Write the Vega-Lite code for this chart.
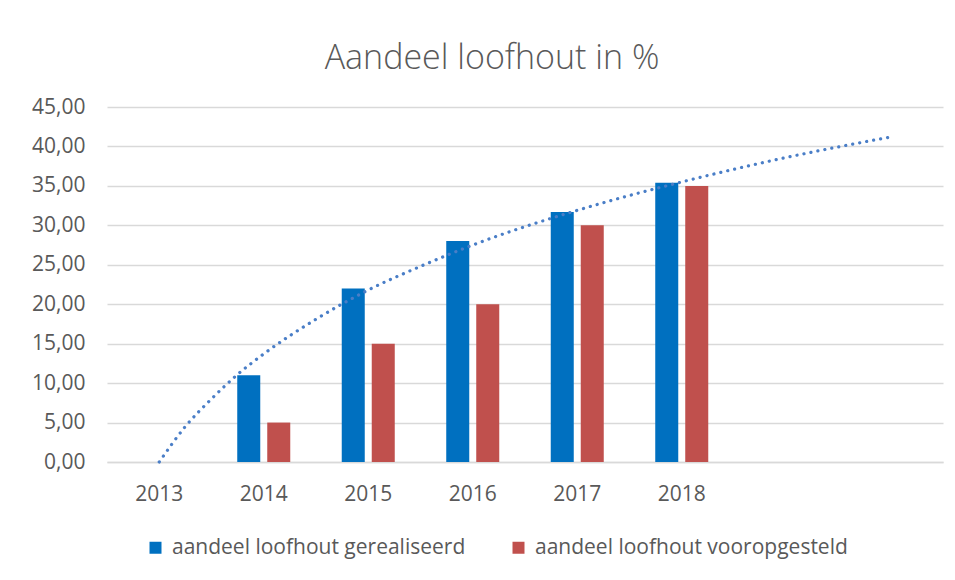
{
  "$schema": "https://vega.github.io/schema/vega-lite/v6.json",
  "width": 836,
  "height": 355,
  "autosize": {"type": "none"},
  "padding": {"left": 107, "top": 107, "right": 12, "bottom": 118},
  "background": "white",
  "config": {
    "view": {"stroke": null},
    "font": "Open Sans",
    "axis": {"labelFont": "Open Sans", "labelColor": "#595959", "labelFontSize": 21},
    "legend": {"labelFont": "Open Sans", "labelColor": "#595959", "labelFontSize": 21}
  },
  "title": {
    "text": "Aandeel loofhout in %",
    "font": "Open Sans",
    "fontSize": 34,
    "fontWeight": 300,
    "color": "#595959",
    "anchor": "middle",
    "dx": -33,
    "offset": 20
  },
  "layer": [
    {
      "data": {
        "values": [
          {"jaar": "2014", "serie": "aandeel loofhout gerealiseerd", "waarde": 11.0},
          {"jaar": "2014", "serie": "aandeel loofhout vooropgesteld", "waarde": 5.0},
          {"jaar": "2015", "serie": "aandeel loofhout gerealiseerd", "waarde": 22.0},
          {"jaar": "2015", "serie": "aandeel loofhout vooropgesteld", "waarde": 15.0},
          {"jaar": "2016", "serie": "aandeel loofhout gerealiseerd", "waarde": 28.0},
          {"jaar": "2016", "serie": "aandeel loofhout vooropgesteld", "waarde": 20.0},
          {"jaar": "2017", "serie": "aandeel loofhout gerealiseerd", "waarde": 31.7},
          {"jaar": "2017", "serie": "aandeel loofhout vooropgesteld", "waarde": 30.0},
          {"jaar": "2018", "serie": "aandeel loofhout gerealiseerd", "waarde": 35.4},
          {"jaar": "2018", "serie": "aandeel loofhout vooropgesteld", "waarde": 35.0}
        ]
      },
      "mark": {"type": "bar"},
      "encoding": {
        "x": {
          "field": "jaar",
          "type": "nominal",
          "scale": {"domain": ["2013", "2014", "2015", "2016", "2017", "2018", "2019", "2020"], "paddingInner": 0, "paddingOuter": 0},
          "axis": {
            "title": null,
            "ticks": false,
            "tickSize": 0,
            "labelPadding": 21,
            "labelAngle": 0,
            "domainColor": "#D9D9D9",
            "domainWidth": 1.5,
            "labelExpr": "datum.value == '2019' || datum.value == '2020' ? '' : datum.label"
          }
        },
        "xOffset": {
          "field": "serie",
          "type": "nominal",
          "scale": {"paddingInner": 0.233, "paddingOuter": 0.858}
        },
        "y": {
          "field": "waarde",
          "type": "quantitative",
          "scale": {"domain": [0, 45], "nice": false},
          "axis": {
            "title": null,
            "values": [0, 5, 10, 15, 20, 25, 30, 35, 40, 45],
            "labelOverlap": false,
            "ticks": false,
            "tickSize": 0,
            "domain": false,
            "labelPadding": 22,
            "gridColor": "#D9D9D9",
            "gridWidth": 1.5,
            "labelExpr": "replace(format(datum.value, '.2f'), '.', ',')"
          }
        },
        "color": {
          "field": "serie",
          "type": "nominal",
          "scale": {
            "domain": ["aandeel loofhout gerealiseerd", "aandeel loofhout vooropgesteld"],
            "range": ["#0070C0", "#C0504D"]
          },
          "legend": {
            "title": null,
            "orient": "none",
            "direction": "horizontal",
            "legendX": 38,
            "legendY": 430,
            "symbolType": "square",
            "symbolSize": 144,
            "symbolStrokeWidth": 0,
            "labelOffset": 6,
            "columnPadding": 42,
            "padding": 0,
            "labelLimit": 500
          }
        }
      }
    },
    {
      "data": {
        "values": [
          {"t": 1.0, "trend": 0.0},
          {"t": 1.25, "trend": 4.5},
          {"t": 1.5, "trend": 8.0},
          {"t": 1.75, "trend": 11.1},
          {"t": 2.0, "trend": 13.7},
          {"t": 2.5, "trend": 18.1},
          {"t": 3.0, "trend": 21.8},
          {"t": 3.5, "trend": 24.8},
          {"t": 4.0, "trend": 27.5},
          {"t": 5.0, "trend": 31.9},
          {"t": 6.0, "trend": 35.5},
          {"t": 7.0, "trend": 38.6},
          {"t": 8.0, "trend": 41.2}
        ]
      },
      "mark": {
        "type": "line",
        "color": "#4A7EC7",
        "strokeWidth": 3.2,
        "strokeDash": [0.1, 7],
        "strokeCap": "round",
        "interpolate": "monotone"
      },
      "encoding": {
        "x": {
          "field": "t",
          "type": "quantitative",
          "scale": {"domain": [0.5, 8.5], "nice": false, "zero": false},
          "axis": null
        },
        "y": {
          "field": "trend",
          "type": "quantitative",
          "scale": {"domain": [0, 45], "nice": false},
          "axis": {
            "title": null,
            "values": [0, 5, 10, 15, 20, 25, 30, 35, 40, 45],
            "labelOverlap": false,
            "ticks": false,
            "tickSize": 0,
            "domain": false,
            "labelPadding": 22,
            "gridColor": "#D9D9D9",
            "gridWidth": 1.5,
            "labelExpr": "replace(format(datum.value, '.2f'), '.', ',')"
          }
        }
      }
    }
  ],
  "resolve": {"scale": {"x": "independent"}}
}
